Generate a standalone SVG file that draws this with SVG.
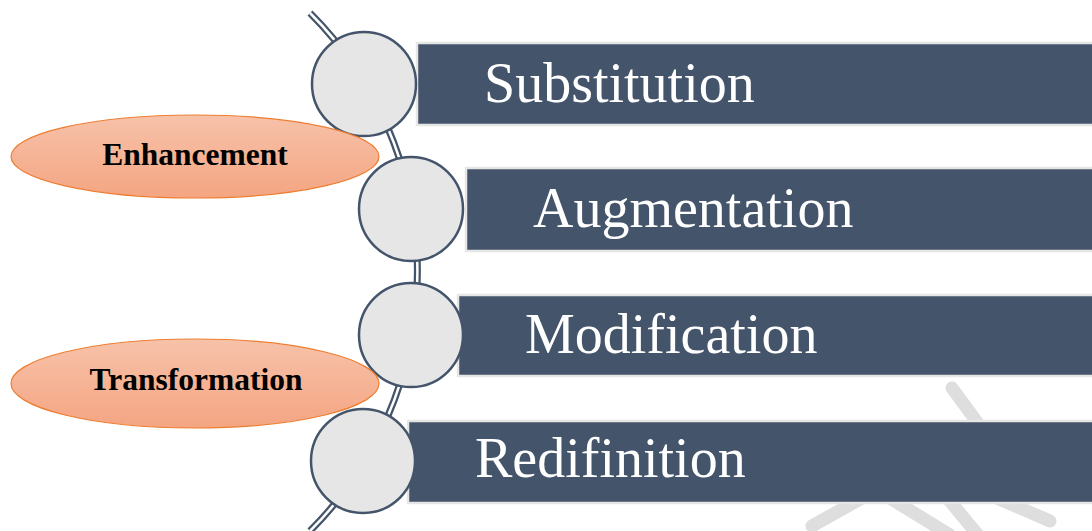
<svg xmlns="http://www.w3.org/2000/svg" width="1092" height="531" viewBox="0 0 1092 531">
<style>
.wm{stroke:#dedede;stroke-width:13;stroke-linecap:round;fill:none}
.bar{fill:#44546a;stroke:#e6e6e6;stroke-width:2.5}
.bead{fill:#e6e6e6;stroke:#44546a;stroke-width:2.5}
.lbl{font-family:"Liberation Serif","Times New Roman",serif;font-size:56px;fill:#ffffff}
.oval{fill:url(#og);stroke:#ed7d31;stroke-width:1.2}
.otxt{font-family:"Liberation Serif","Times New Roman",serif;font-size:31.5px;font-weight:bold;fill:#000000;text-anchor:middle}
</style>
<defs>
<linearGradient id="og" x1="0" y1="0" x2="0" y2="1">
<stop offset="0" stop-color="#f7c2a9"/>
<stop offset="1" stop-color="#f4a582"/>
</linearGradient>
</defs>
<rect width="1092" height="531" fill="#ffffff"/>
<g id="watermark">
<line class="wm" x1="952" y1="388" x2="1005" y2="460"/>
<line class="wm" x1="812" y1="526" x2="862" y2="498"/>
<line class="wm" x1="885" y1="495" x2="950" y2="535"/>
<line class="wm" x1="945" y1="495" x2="982" y2="540"/>
<line class="wm" x1="990" y1="495" x2="1050" y2="521"/>
</g>
<g id="connectors">
<path d="M 310 13 A 366 366 0 0 1 310 531" fill="none" stroke="#44546a" stroke-width="7"/>
<path d="M 310 13 A 366 366 0 0 1 310 531" fill="none" stroke="#ffffff" stroke-width="2.5"/>
</g>
<g id="substitution">
<rect class="bar" x="417" y="43" width="690" height="82"/>
<text class="lbl" x="484" y="102">Substitution</text>
</g>
<g id="augmentation">
<rect class="bar" x="466" y="168" width="640" height="83"/>
<text class="lbl" x="533" y="227">Augmentation</text>
</g>
<g id="modification">
<rect class="bar" x="458" y="295" width="650" height="81"/>
<text class="lbl" x="525" y="353">Modification</text>
</g>
<g id="redifinition">
<rect class="bar" x="408" y="421" width="700" height="82"/>
<text class="lbl" x="475" y="477">Redifinition</text>
</g>
<g id="bead1"><circle class="bead" cx="364" cy="84" r="52"/></g>
<g id="bead2"><circle class="bead" cx="411" cy="209" r="52"/></g>
<g id="bead3"><circle class="bead" cx="411" cy="335" r="52"/></g>
<g id="bead4"><circle class="bead" cx="363" cy="461" r="52"/></g>
<g id="enhancement">
<ellipse class="oval" cx="195" cy="156.5" rx="184" ry="41.5"/>
<text class="otxt" x="195" y="165">Enhancement</text>
</g>
<g id="transformation">
<ellipse class="oval" cx="195" cy="383.5" rx="184" ry="44.5"/>
<text class="otxt" x="196" y="390">Transformation</text>
</g>
</svg>
